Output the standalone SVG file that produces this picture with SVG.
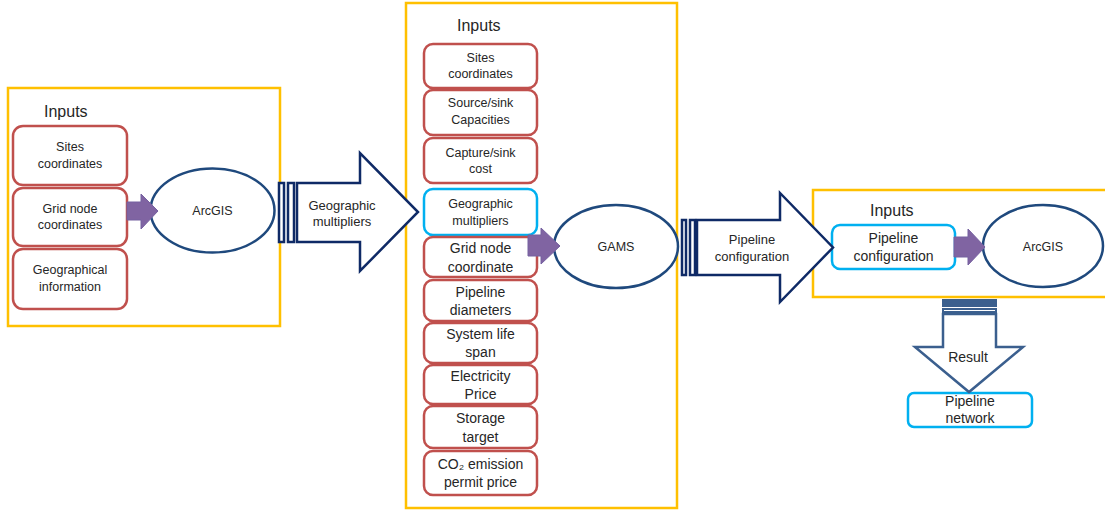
<svg xmlns="http://www.w3.org/2000/svg" width="1105" height="510" viewBox="0 0 1105 510">
<style>
.frame{fill:none;stroke:#FFC000;stroke-width:2.5}
.inp{fill:#fff;stroke:#C0504D;stroke-width:2.5}
.blu{fill:#fff;stroke:#00B0F0;stroke-width:2.5}
.ell{fill:#fff;stroke:#1F497D;stroke-width:2.5}
.big{fill:#fff;stroke:#0F2A66;stroke-width:2.5;stroke-linejoin:miter}
.down{fill:#fff;stroke:#3B5F8E;stroke-width:2.5}
.pur{fill:#8064A2;stroke:#7560A0;stroke-width:1}
text{font-family:"Liberation Sans",Arial,sans-serif;fill:#262626;text-anchor:middle}
.t12{font-size:12.5px}
.t13{font-size:13px}
.t14{font-size:14px}
.hd{font-size:16px;text-anchor:start}
</style>
<rect width="1105" height="510" fill="#fff"/>

<g id="frames">
<rect class="frame" x="8" y="88" width="272" height="238"/>
<rect class="frame" x="406" y="3" width="271" height="505"/>
<rect class="frame" x="813" y="190" width="300" height="107"/>
</g>

<g id="labels">
<text class="hd" x="44" y="117">Inputs</text>
<text class="hd" x="457" y="31">Inputs</text>
<text class="hd" x="870" y="216">Inputs</text>
</g>

<g id="left-inputs">
<g id="l-sites"><rect class="inp" x="13" y="126" width="114" height="59" rx="10"/><text class="t12" x="70" y="151">Sites</text><text class="t12" x="70" y="168">coordinates</text></g>
<g id="l-grid"><rect class="inp" x="13" y="188" width="114" height="58" rx="10"/><text class="t12" x="70" y="213">Grid node</text><text class="t12" x="70" y="229">coordinates</text></g>
<g id="l-geo"><rect class="inp" x="13" y="249" width="114" height="60" rx="10"/><text class="t12" x="70" y="274">Geographical</text><text class="t12" x="70" y="291">information</text></g>
</g>

<g id="arcgis1"><ellipse class="ell" cx="212.5" cy="210.5" rx="62" ry="42"/><text class="t12" x="212.5" y="215">ArcGIS</text></g>

<g id="mid-inputs">
<g id="m1"><rect class="inp" x="424" y="44" width="113" height="44" rx="9"/><text class="t12" x="480.5" y="62">Sites</text><text class="t12" x="480.5" y="78">coordinates</text></g>
<g id="m2"><rect class="inp" x="424" y="90" width="113" height="45" rx="9"/><text class="t12" x="480.5" y="107">Source/sink</text><text class="t12" x="480.5" y="124">Capacities</text></g>
<g id="m3"><rect class="inp" x="424" y="138" width="113" height="45" rx="9"/><text class="t12" x="480.5" y="157">Capture/sink</text><text class="t12" x="480.5" y="173">cost</text></g>
<g id="m4"><rect class="blu" x="424" y="189" width="113" height="46" rx="9"/><text class="t12" x="480.5" y="208">Geographic</text><text class="t12" x="480.5" y="225">multipliers</text></g>
<g id="m5"><rect class="inp" x="424" y="237" width="113" height="40" rx="9"/><text class="t14" x="480.5" y="253">Grid node</text><text class="t14" x="480.5" y="272">coordinate</text></g>
<g id="m6"><rect class="inp" x="424" y="280" width="113" height="41" rx="9"/><text class="t14" x="480.5" y="297">Pipeline</text><text class="t14" x="480.5" y="315">diameters</text></g>
<g id="m7"><rect class="inp" x="424" y="323" width="113" height="40" rx="9"/><text class="t14" x="480.5" y="339">System life</text><text class="t14" x="480.5" y="357">span</text></g>
<g id="m8"><rect class="inp" x="424" y="365" width="113" height="39" rx="9"/><text class="t14" x="480.5" y="381">Electricity</text><text class="t14" x="480.5" y="399">Price</text></g>
<g id="m9"><rect class="inp" x="424" y="406" width="113" height="42" rx="9"/><text class="t14" x="480.5" y="423">Storage</text><text class="t14" x="480.5" y="442">target</text></g>
<g id="m10"><rect class="inp" x="424" y="451" width="113" height="44" rx="9"/><text class="t14" x="480.5" y="469">CO₂ emission</text><text class="t14" x="480.5" y="487">permit price</text></g>
</g>

<g id="gams"><ellipse class="ell" cx="616" cy="246.5" rx="62" ry="41.5"/><text class="t12" x="616" y="251">GAMS</text></g>

<g id="right-inputs">
<g id="r-pipe"><rect class="blu" x="832" y="225" width="123" height="44" rx="8"/><text class="t14" x="893.5" y="243">Pipeline</text><text class="t14" x="893.5" y="261">configuration</text></g>
</g>

<g id="arcgis2"><ellipse class="ell" cx="1043" cy="246" rx="60" ry="41"/><text class="t12" x="1043" y="251">ArcGIS</text></g>

<g id="result-node"><rect class="blu" x="908" y="393" width="124" height="34" rx="6"/><text class="t14" x="970" y="406">Pipeline</text><text class="t14" x="970" y="423">network</text></g>

<g id="connectors">
<path class="pur" d="M127,202 H141 V194 L158,211 L141,229 V220 H127 Z"/>
<path class="pur" d="M528,235 H541 V228 L560,246 L541,264 V256 H528 Z"/>
<path class="pur" d="M954,237 H968 V229 L985,247 L968,265 V257 H954 Z"/>

<g id="arrow-geo">
<rect class="big" x="279" y="183" width="5" height="59"/>
<rect class="big" x="288" y="183" width="6" height="59"/>
<path class="big" d="M297,183 H360 V153 L418,212 L360,271 V242 H297 Z"/>
<text class="t13" x="342" y="210">Geographic</text>
<text class="t13" x="342" y="226">multipliers</text>
</g>

<g id="arrow-pipe">
<rect class="big" x="682" y="220" width="4" height="55"/>
<rect class="big" x="690" y="220" width="5" height="55"/>
<path class="big" d="M697,220 H780 V193 L833,247.5 L780,302 V275 H697 Z"/>
<text class="t13" x="752" y="244">Pipeline</text>
<text class="t13" x="752" y="261">configuration</text>
</g>

<g id="arrow-result">
<rect x="942" y="299" width="55" height="8" fill="#3B5F8E"/>
<rect class="down" x="943" y="309" width="53" height="3" style="stroke-width:2"/>
<path class="down" d="M943,314 H996 V347 H1023 L969,392 L915,347 H943 Z"/>
<text class="t14" x="968" y="362">Result</text>
</g>
</g>
</svg>
